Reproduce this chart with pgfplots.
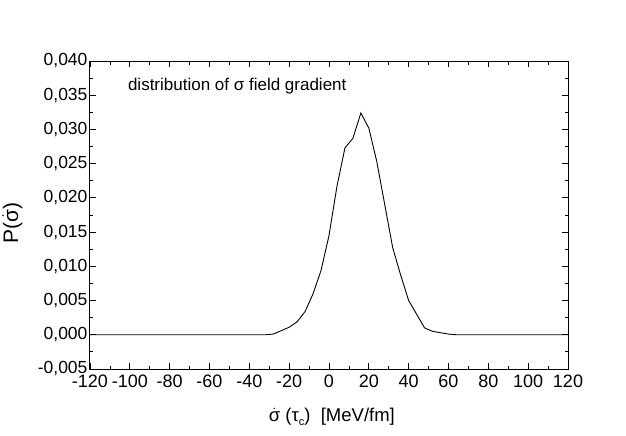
\documentclass[border=0pt]{standalone}
\usepackage{fontspec}
\setmainfont{Liberation Sans}
\usepackage{pgfplots}
\pgfplotsset{compat=1.18}
\begin{document}
\begin{tikzpicture}
\useasboundingbox (0pt,0pt) rectangle (626pt,436pt);
\begin{axis}[at={(90pt,67pt)}, anchor=south west, width=478pt, height=308pt, scale only axis,
  xmin=-120, xmax=120, ymin=-0.005, ymax=0.040,
  xtick distance=20, ytick distance=0.005,
  minor x tick num=1, minor y tick num=1,
  tick align=inside, major tick length=6pt, minor tick length=3.5pt,
  axis line style={line width=1pt},
  every tick/.style={black, line width=0.8pt},
  scaled y ticks=false,
  /pgf/number format/assume math mode=true,
  yticklabel style={font=\fontsize{17.5}{17.5}\selectfont, xshift=1pt, /pgf/number format/.cd, fixed, fixed zerofill, precision=3, use comma},
  xticklabel style={font=\fontsize{18}{18}\selectfont, yshift=-2pt},
  xlabel={$\dot{\mbox{σ}}$ (τ\raisebox{-0.4ex}{\fontsize{11}{11}\selectfont c})\ \ [MeV/fm]},
  xlabel style={font=\fontsize{18.5}{18.5}\selectfont, at={(axis description cs:0.506,-0.171)}, anchor=base},
  ylabel={P($\dot{\mbox{σ}}$)},
  ylabel style={font=\fontsize{21}{21}\selectfont, at={(axis description cs:-0.1506,0.474)}, rotate=0, anchor=base},
  clip=false,
]
\addplot[black, line width=0.9pt] coordinates {
(-120,0) (-32,0) (-28,0.0001) (-24,0.0006) (-20,0.0011) (-16,0.0019) (-12,0.0034)
(-8,0.0060) (-4,0.0094) (0,0.0145) (4,0.0217) (8,0.0273) (12,0.0287) (16,0.0324)
(20,0.0302) (24,0.0253) (28,0.0190) (32,0.0127) (36,0.0087) (40,0.0050) (44,0.0030)
(48,0.0010) (52,0.0005) (56,0.0003) (60,0.0001) (64,0) (120,0)
};
\node[anchor=base west, font=\fontsize{17}{17}\selectfont, inner sep=0pt] at (axis cs:-101,0.0357) {distribution of σ field gradient};
\end{axis}
\end{tikzpicture}
\end{document}
